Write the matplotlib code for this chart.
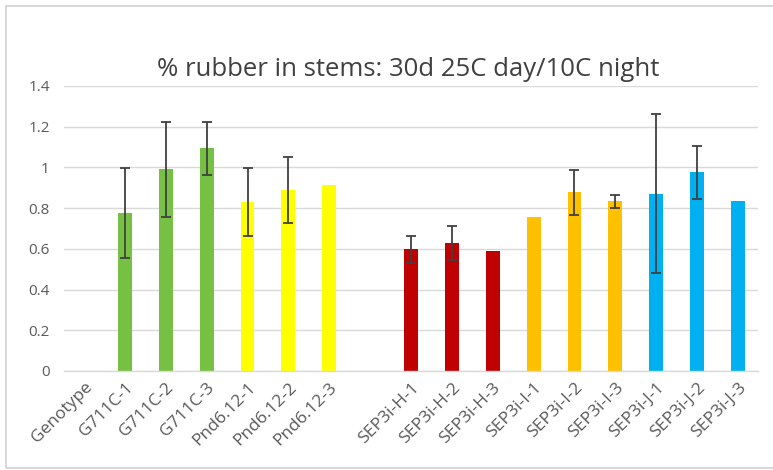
import matplotlib
matplotlib.use("Agg")
import matplotlib.pyplot as plt
from matplotlib.patches import Rectangle

# data
labels = ["Genotype", "G711C-1", "G711C-2", "G711C-3", "Pnd6.12-1", "Pnd6.12-2", "Pnd6.12-3", "",
          "SEP3i-H-1", "SEP3i-H-2", "SEP3i-H-3", "SEP3i-I-1", "SEP3i-I-2", "SEP3i-I-3",
          "SEP3i-J-1", "SEP3i-J-2", "SEP3i-J-3"]
values = [0, 0.775, 0.99, 1.095, 0.83, 0.888, 0.915, 0,
          0.598, 0.628, 0.59, 0.758, 0.878, 0.833,
          0.87, 0.977, 0.837]
errors = [0, 0.22, 0.235, 0.13, 0.165, 0.163, 0,
          0, 0.066, 0.085, 0, 0, 0.11, 0.03,
          0.39, 0.13, 0]
colors = ["none", "#76C043", "#76C043", "#76C043", "#FFFF00", "#FFFF00", "#FFFF00", "none",
          "#C00000", "#C00000", "#C00000", "#FFC000", "#FFC000", "#FFC000",
          "#00B0F0", "#00B0F0", "#00B0F0"]
yticks = [0, 0.2, 0.4, 0.6, 0.8, 1, 1.2, 1.4]
ytick_labels = ["0", "0.2", "0.4", "0.6", "0.8", "1", "1.2", "1.4"]

plt.rcParams['font.family'] = ['Open Sans', 'DejaVu Sans']
text_gray = '#595959'

fig = plt.figure(figsize=(7.73, 4.70), dpi=100)
fig.patch.set_facecolor('white')
fig.patches.append(Rectangle((6 / 773, 2 / 470), 1.0, 1 - 8 / 470, transform=fig.transFigure,
                             fill=False, edgecolor='#D0D0D0', linewidth=1.2))

ax = fig.add_axes([63.6 / 773, 1 - 371 / 470, (758.4 - 63.6) / 773, (371 - 86) / 470])

x = list(range(len(labels)))
ax.bar(x, values, width=0.34, color=colors, zorder=2)
for xi, v, e in zip(x, values, errors):
    if e > 0:
        ax.errorbar(xi, v, yerr=e, fmt='none', ecolor='#404040', elinewidth=1.3,
                    capsize=3.5, capthick=1.3, zorder=3)

ax.set_xlim(-0.5, len(labels) - 0.5)
ax.set_ylim(0, 1.4)
ax.set_yticks(yticks)
ax.set_yticklabels(ytick_labels, fontsize=11, color=text_gray)
ax.set_xticks(x)
ax.set_xticklabels(labels, rotation=45, ha='right', rotation_mode='anchor',
                   fontsize=12.5, color=text_gray)
ax.tick_params(axis='y', length=0, pad=10)
ax.tick_params(axis='x', length=0, pad=6)
ax.yaxis.grid(True, color='#D9D9D9', linewidth=1.0, zorder=0)
ax.set_axisbelow(True)
for side in ['top', 'right', 'left']:
    ax.spines[side].set_visible(False)
ax.spines['bottom'].set_color('#D9D9D9')
ax.spines['bottom'].set_linewidth(1.0)

fig.text(408 / 773, 1 - 70 / 470, "% rubber in stems: 30d 25C day/10C night",
         ha='center', va='center', fontsize=18.5, color='#404040')

fig.savefig('out.png', dpi=100, facecolor='white')
